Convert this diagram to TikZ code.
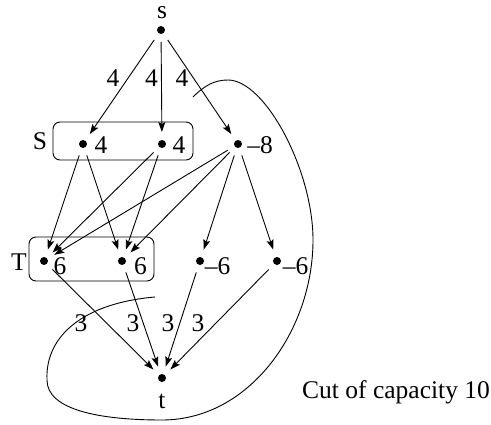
\documentclass[tikz,border=0pt]{standalone}
\usepackage{fontspec}
\setmainfont{Liberation Serif}
\usetikzlibrary{arrows.meta}
\begin{document}
\begin{tikzpicture}[x=1pt,y=-1pt,
  every node/.style={font=\fontsize{25.5}{30}\selectfont, inner sep=0pt},
  dot/.style={circle, fill=black, inner sep=0pt, minimum size=8pt, outer sep=8pt},
  arr/.style={-{Stealth[length=10pt,width=7pt,inset=2pt]}, line width=0.9pt},
  grp/.style={draw, line width=0.9pt, rounded corners=7pt},
  cut/.style={line width=0.9pt}]
\useasboundingbox (0,0) rectangle (491,424);
% boxes
\draw[grp] (53,122) rectangle (193,160);
\draw[grp] (29,237) rectangle (154,281);
% dots
\node[dot] (s) at (161,30) {};
\node[dot] (a1) at (83,144) {};
\node[dot] (a2) at (162,144) {};
\node[dot] (b) at (238,144) {};
\node[dot] (c1) at (44,261) {};
\node[dot] (c2) at (122,261) {};
\node[dot] (d1) at (200,261) {};
\node[dot] (d2) at (277,261) {};
\node[dot] (t) at (162,378) {};
% labels
\node (ls) at (162,13) {s};
\node (lt) at (162,401) {t};
\node (lS) at (40,141) {S};
\node (lT) at (19,262) {T};
\node (la1) at (101,145) {4};
\node (la2) at (179,145) {4};
\node (lb) at (260,145) {\textendash8};
\node (lc1) at (60,266) {6};
\node (lc2) at (140.5,266) {6};
\node (ld1) at (217.5,266) {\textendash6};
\node (ld2) at (295.5,266) {\textendash6};
\node[anchor=base west] (cap) at (302,398) {Cut of capacity 10};
% edges
\draw[arr] (s) -- (a1);
\draw[arr] (s) -- (a2);
\draw[arr] (s) -- (b);
\draw[arr] (a1) -- (c1);
\draw[arr] (a1) -- (c2);
\draw[arr] (a2) -- (c1);
\draw[arr] (a2) -- (c2);
\draw[arr] (b) -- (c1);
\draw[arr] (b) -- (c2);
\draw[arr] (b) -- (d1);
\draw[arr] (b) -- (d2);
\draw[arr] (c1) -- (t);
\draw[arr] (c2) -- (t);
\draw[arr] (d1) -- (t);
\draw[arr] (d2) -- (t);
% edge labels
\node (e1) at (113,78.5) {4};
\node (e2) at (151.5,78.5) {4};
\node (e3) at (182,78.5) {4};
\node (f1) at (81,323) {3};
\node (f2) at (133,323) {3};
\node (f3) at (168,323) {3};
\node (f4) at (198,323) {3};
% cut curve
\coordinate (k0) at (193,97);
\coordinate (k1) at (228,80);
\coordinate (k2) at (313,240);
\coordinate (k3) at (162,420);
\coordinate (k4) at (47,380);
\coordinate (k5) at (155,297);
\draw[cut] (k0) .. controls (205,85) and (215,80) .. (k1)
  .. controls (265,80) and (313,170) .. (k2)
  .. controls (313,330) and (250,420) .. (k3)
  .. controls (100,420) and (47,410) .. (k4)
  .. controls (45,335) and (85,303) .. (k5);
\end{tikzpicture}
\end{document}
